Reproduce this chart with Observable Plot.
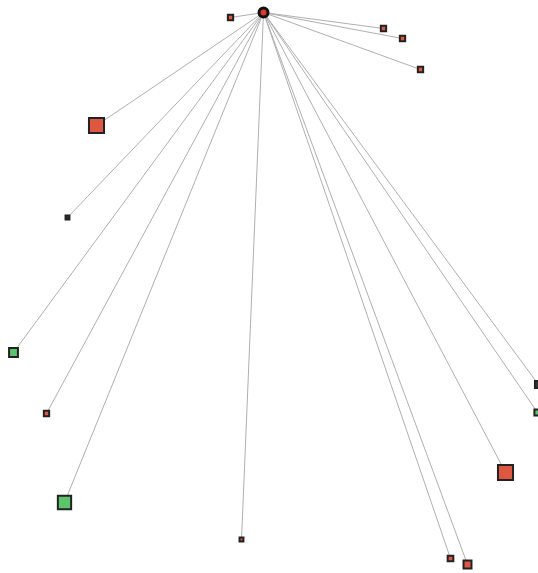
<!DOCTYPE html>
<html><head><meta charset="utf-8">
<script src="https://cdn.jsdelivr.net/npm/d3@7"></script>
<script src="https://cdn.jsdelivr.net/npm/@observablehq/plot@0.6"></script>
<style>body{margin:0;background:#fff}</style>
</head><body><div id="chart"></div>
<script>
const nodeIds = ["n1","n2","n3","n4","n5","n6","n7","n8","n9","n10","n11","n12","n13","n14","n15"];
const nodeX = [230, 383, 402, 420, 96, 67, 13, 46, 64, 241, 450, 467, 505, 538, 537];
const nodeY = [17, 28, 38, 69, 125, 217, 352, 413, 502, 539, 558, 564, 472, 384, 412];
const nodeSize = [3, 3, 3, 3, 8.5, 2.2, 5, 3, 7.5, 2.2, 3.2, 4.5, 8.5, 4, 3.5];
const nodeGroup = ["red","red","red","red","red","dark","green","red","green","red","red","red","red","dark","green"];
const hub = {x: 263, y: 12};

const nodes = nodeIds.map((id, i) => ({id, x: nodeX[i], y: nodeY[i], r: nodeSize[i], g: nodeGroup[i]}));

const chart = Plot.plot({
  width: 538, height: 573, margin: 0,
  x: {domain: [0, 538], axis: null},
  y: {domain: [0, 573], reverse: true, axis: null},
  r: {type: "identity"},
  color: {domain: ["red","green","dark"], range: ["#dd5741","#5cc46a","#333333"]},
  marks: [
    Plot.link(nodes, {x1: () => hub.x, y1: () => hub.y, x2: "x", y2: "y", stroke: "#b0b0b0", strokeWidth: 1}),
    Plot.dot(nodes, {x: "x", y: "y", r: "r", symbol: "square", fill: "g", stroke: "#222", strokeWidth: 2}),
    Plot.dot([hub], {x: "x", y: "y", r: 4.5, fill: "#dd3a2a", stroke: "#111", strokeWidth: 3})
  ]
});
document.getElementById("chart").append(chart);
</script></body></html>
